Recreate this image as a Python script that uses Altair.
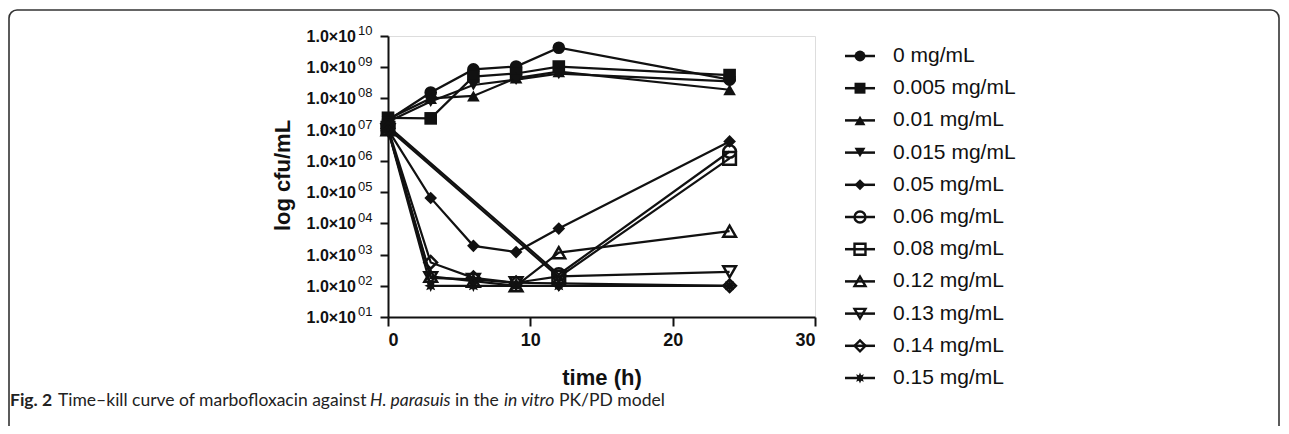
import math
import altair as alt
import pandas as pd

# ---------------- data ----------------
times = [0, 3, 6, 9, 12, 24]
series = ["0 mg/mL", "0.005 mg/mL", "0.01 mg/mL", "0.015 mg/mL", "0.05 mg/mL",
          "0.06 mg/mL", "0.08 mg/mL", "0.12 mg/mL", "0.13 mg/mL", "0.14 mg/mL",
          "0.15 mg/mL"]
cfu_0000 = [2.0e7, 1.55e8, 8.5e8, 1.05e9, 4.2e9, 4.0e8]
cfu_0005 = [2.4e7, 2.3e7, 5.0e8, 6.3e8, 1.05e9, 5.6e8]
cfu_0010 = [2.2e7, 1.0e8, 1.2e8, 4.5e8, 7.2e8, 1.9e8]
cfu_0015 = [1.8e7, 8.0e7, 2.7e8, 4.0e8, 6.2e8, 3.5e8]
cfu_0050 = [1.0e7, 6.5e4, 1.9e3, 1.2e3, 6.8e3, 4.2e6]
cfu_0060 = [1.3e7, None, None, None, 2.3e2, 2.0e6]
cfu_0080 = [1.1e7, None, None, None, 1.9e2, 1.2e6]
cfu_0120 = [1.0e7, 2.0e2, 1.4e2, 1.0e2, 1.15e3, 5.6e3]
cfu_0130 = [1.0e7, 1.8e2, 1.6e2, 1.25e2, 2.0e2, 2.8e2]
cfu_0140 = [1.1e7, 5.6e2, 1.8e2, 1.25e2, 1.2e2, 1.0e2]
cfu_0150 = [1.0e7, 1.0e2, 1.0e2, 1.0e2, 1.0e2, 1.0e2]
all_values = [cfu_0000, cfu_0005, cfu_0010, cfu_0015, cfu_0050, cfu_0060,
              cfu_0080, cfu_0120, cfu_0130, cfu_0140, cfu_0150]
open_marker = [False, False, False, False, False, True, True, True, True, True, False]

y_ticks = [1e1, 1e2, 1e3, 1e4, 1e5, 1e6, 1e7, 1e8, 1e9, 1e10]
y_tick_base = "1.0\u00d710"
y_tick_exp = ["01", "02", "03", "04", "05", "06", "07", "08", "09", "10"]
x_ticks = [0, 10, 20, 30]

caption_parts = [("Fig. 2", "normal", "bold"),
                 ("Time\u2013kill curve of marbofloxacin against", "normal", "normal"),
                 ("H. parasuis", "italic", "normal"),
                 ("in the", "normal", "normal"),
                 ("in vitro", "italic", "normal"),
                 ("PK/PD model", "normal", "normal")]

# ---------------- styles ----------------
INK = "#111111"
FONT = "Liberation Sans"

# 8-point burst for the 0.15 mg/mL marker
pts = []
for k in range(16):
    a = k * math.pi / 8
    r = 1.0 if k % 2 == 0 else 0.55
    pts.append(f"{r*math.cos(a):.3f},{r*math.sin(a):.3f}")
burst = "M" + " L".join(pts) + " Z"

shapes = ["circle", "square", "triangle-up", "triangle-down", "diamond",
          "circle", "square", "triangle-up", "triangle-down", "diamond", burst]

rows = []
for s, vals, op in zip(series, all_values, open_marker):
    for t, v in zip(times, vals):
        if v is not None:
            rows.append({"series": s, "time": t, "cfu": v, "open": op})
df = pd.DataFrame(rows)

leg = pd.DataFrame({"series": series, "idx": list(range(len(series))), "open": open_marker})

W, H = 427, 281
xs = alt.Scale(domain=[0, 30], nice=False, zero=False)
ys = alt.Scale(type="log", domain=[10, 1e10], nice=False)
shape_enc = alt.Shape("series:N", scale=alt.Scale(domain=series, range=shapes), legend=None)

x_enc = alt.X("time:Q", scale=xs,
              axis=alt.Axis(values=x_ticks, title="time (h)", grid=False,
                            labelFont=FONT, labelFontSize=18, labelFontWeight="bold",
                            labelColor=INK, labelPadding=5,
                            tickSize=9, tickWidth=2, tickColor=INK,
                            domainWidth=2, domainColor=INK,
                            titleFont=FONT, titleFontSize=22, titleFontWeight="bold",
                            titleColor=INK, titleX=W / 2, titleY=60,
                            titleBaseline="middle", titleAlign="center"))
y_enc = alt.Y("cfu:Q", scale=ys,
              axis=alt.Axis(values=y_ticks, labels=False, title="log cfu/mL", grid=False,
                            tickSize=8, tickWidth=2, tickColor=INK,
                            domainWidth=2, domainColor=INK,
                            titleFont=FONT, titleFontSize=22, titleFontWeight="bold",
                            titleColor=INK, titleX=-106, titleY=139, titleAngle=-90,
                            titleBaseline="middle", titleAlign="center"))

base = alt.Chart(df)
lines = base.mark_line(color=INK, strokeWidth=2.2).encode(
    x=x_enc, y=y_enc, detail="series:N", order="time:Q")
filled_pts = base.transform_filter("!datum.open").mark_point(
    filled=True, color=INK, size=160, opacity=1).encode(
    x=alt.X("time:Q", scale=xs), y=alt.Y("cfu:Q", scale=ys), shape=shape_enc)
open_pts = base.transform_filter("datum.open").mark_point(
    filled=False, color=INK, size=160, strokeWidth=2.5, opacity=1).encode(
    x=alt.X("time:Q", scale=xs), y=alt.Y("cfu:Q", scale=ys), shape=shape_enc)

tick_df = pd.DataFrame({"v": y_ticks, "base": [y_tick_base] * len(y_ticks), "exp": y_tick_exp})
tick_base = alt.Chart(tick_df).mark_text(
    align="right", baseline="middle", font=FONT, fontSize=16, fontWeight="bold",
    color=INK, dy=1).encode(
    x=alt.value(-32), y=alt.Y("v:Q", scale=ys), text="base:N")
tick_exp = alt.Chart(tick_df).mark_text(
    align="left", baseline="middle", font=FONT, fontSize=13, color=INK, dy=-5).encode(
    x=alt.value(-30), y=alt.Y("v:Q", scale=ys), text="exp:N")

main = alt.layer(lines, filled_pts, open_pts, tick_base, tick_exp)

# ---------------- legend ----------------
ly = alt.Y("idx:Q", scale=alt.Scale(domain=[0, 10], range=[20, 342]), axis=None)
lb = alt.Chart(leg)
leg_lines = lb.mark_rule(color=INK, strokeWidth=2.5).encode(
    x=alt.value(457), x2=alt.value(487), y=ly)
leg_filled = lb.transform_filter("!datum.open").mark_point(
    filled=True, color=INK, size=120, opacity=1).encode(x=alt.value(472), y=ly, shape=shape_enc)
leg_open = lb.transform_filter("datum.open").mark_point(
    filled=False, color=INK, size=120, strokeWidth=2.4, opacity=1).encode(
    x=alt.value(472), y=ly, shape=shape_enc)
leg_text = lb.mark_text(align="left", baseline="middle", font=FONT, fontSize=21,
                        color=INK).encode(x=alt.value(505), y=ly, text="series:N")
legend = alt.layer(leg_lines, leg_filled, leg_open, leg_text)

# ---------------- frame and caption ----------------
one = alt.Data(values=[{}])
border = alt.Chart(one).mark_rect(
    fill=None, stroke="#333333", strokeWidth=1.6, cornerRadius=8).encode(
    x=alt.value(-379), x2=alt.value(891), y=alt.value(-26), y2=alt.value(430))

cap_y = 365
cap_x = [-378, -330, -18, 67, 116, 171]
cap_layers = []
for (txt, style, weight), cx in zip(caption_parts, cap_x):
    cap_layers.append(alt.Chart(one).mark_text(
        align="left", baseline="middle", font="Lato", fontSize=17.5, fontStyle=style,
        fontWeight=weight, color="#222222", text=txt).encode(
        x=alt.value(cx), y=alt.value(cap_y)))

deco = alt.layer(border, *cap_layers)

chart = alt.layer(main, legend, deco).resolve_scale(
    x="independent", y="independent", shape="shared"
).properties(
    width=W, height=H,
    autosize=alt.AutoSizeParams(type="none"),
    padding={"left": 380, "top": 28, "right": 466, "bottom": 109},
).configure_view(stroke=None).configure(background="white")

chart.save("out.html", embed_options={"renderer": "svg", "actions": False})
